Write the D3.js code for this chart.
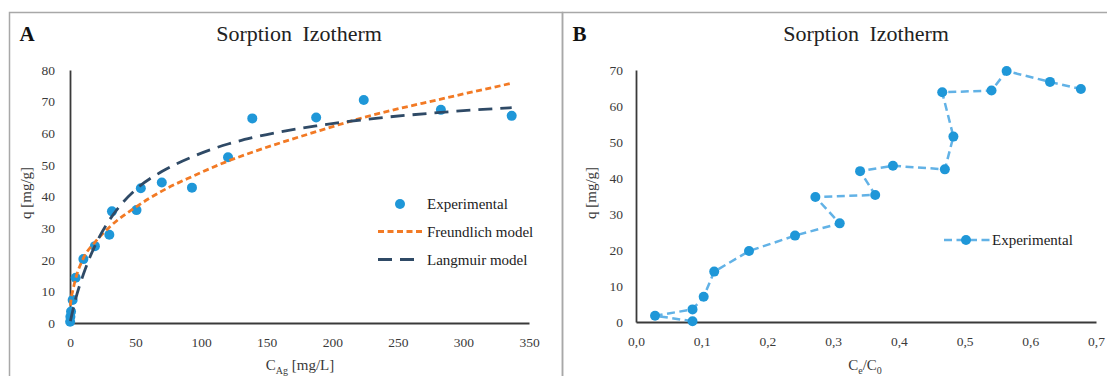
<!DOCTYPE html>
<html>
<head>
<meta charset="utf-8">
<script src="https://cdn.jsdelivr.net/npm/d3@7"></script>
<style>
  body { margin: 0; background: #fff; }
</style>
</head>
<body>
<svg id="chart" width="1107" height="376"></svg>
<script>
'use strict';

// panel A: experimental points and the two fitted models
var cAg = [0.1, 0.3, 0.8, 2, 4.3, 10.2, 19, 30, 32, 50.7, 54, 70, 93, 120.5, 139, 187.7, 224, 282.8, 336.8];
var qA = [0.4, 2, 3.6, 7.3, 14.3, 20.2, 24.3, 27.9, 35.3, 35.7, 42.6, 44.4, 42.8, 52.4, 64.7, 65.0, 70.5, 67.4, 65.5];
var modelC = [0.3, 0.8, 2, 4.3, 10.2, 19, 30, 50.7, 70, 93, 120.5, 139, 187.7, 224, 282.8, 336.8];
var freundlichQ = [5.5, 7.5, 10, 14, 20.5, 25.5, 30.3, 36.8, 41.7, 46.3, 51.2, 54, 60.5, 65, 70.8, 75.8];
var langmuirQ = [0.6, 1.5, 3.7, 7.6, 15.4, 24.4, 32.5, 42.4, 47.9, 52.5, 56.6, 58.6, 62.3, 64.3, 66.6, 68.1];
var xTicksA = [0, 50, 100, 150, 200, 250, 300, 350];
var yTicksA = [0, 10, 20, 30, 40, 50, 60, 70, 80];

// panel B: q against Ce/C0, in measurement order
var ratioB = [0.086, 0.029, 0.086, 0.103, 0.119, 0.172, 0.242, 0.310, 0.273, 0.364, 0.341, 0.391, 0.470, 0.483, 0.466, 0.541, 0.564, 0.630, 0.677];
var qB = [0.2, 1.75, 3.5, 7.0, 14.0, 19.7, 24.0, 27.4, 34.7, 35.3, 41.9, 43.4, 42.4, 51.5, 63.8, 64.3, 69.7, 66.7, 64.7];
var xTicksB = [0, 0.1, 0.2, 0.3, 0.4, 0.5, 0.6, 0.7];
var yTicksB = [0, 10, 20, 30, 40, 50, 60, 70];

var serif = '"Liberation Serif", "DejaVu Serif", serif';
var pointColor = '#1f97d8';
var lineBColor = '#62b2e6';
var freundlichColor = '#f27a25';
var langmuirColor = '#2f4a66';
var axisColor = '#3a3a3a';
var borderColor = '#a8a8a8';

var svg = d3.select('#chart').attr('font-family', serif);
var commaLocale = d3.formatLocale({ decimal: ',', thousands: '.', grouping: [3], currency: ['', ''] });

function drawFrame(x1, x2, letter, titleX) {
  svg.append('path')
    .attr('d', 'M' + x1 + ',380V12.5H' + x2 + 'V380')
    .attr('fill', 'none').attr('stroke', borderColor).attr('stroke-width', 1.5);
  svg.append('text').attr('x', x1 + 10).attr('y', 41)
    .attr('font-size', 21).attr('font-weight', 'bold').attr('fill', '#111').text(letter);
  svg.append('text').attr('x', titleX).attr('y', 41).attr('text-anchor', 'middle')
    .attr('font-size', 22).attr('word-spacing', 5).attr('fill', '#222').text('Sorption Izotherm');
}

function drawAxes(x, y, xTicks, yTicks, xFormat, yPad) {
  var gx = svg.append('g').attr('transform', 'translate(0,' + y.range()[0] + ')')
    .call(d3.axisBottom(x).tickValues(xTicks).tickSize(0).tickPadding(14).tickFormat(xFormat));
  var gy = svg.append('g').attr('transform', 'translate(' + x.range()[0] + ',0)')
    .call(d3.axisLeft(y).tickValues(yTicks).tickSize(0).tickPadding(yPad));
  [gx, gy].forEach(function (g) {
    g.attr('font-family', serif).attr('font-size', 13.5);
    g.select('.domain').attr('stroke', axisColor).attr('stroke-width', 1.8);
    g.selectAll('text').attr('fill', axisColor);
  });
}

function yTitle(xPos, yPos) {
  svg.append('text').attr('transform', 'translate(' + xPos + ',' + yPos + ') rotate(-90)')
    .attr('text-anchor', 'middle').attr('font-size', 15).attr('fill', axisColor).text('q [mg/g]');
}

// ---------- panel A ----------
drawFrame(9.5, 562.5, 'A', 299);

var xA = d3.scaleLinear().domain([0, 350]).range([70, 529]);
var yA = d3.scaleLinear().domain([0, 80]).range([323, 70]);
drawAxes(xA, yA, xTicksA, yTicksA, d3.format('d'), 15);

var xLabelA = svg.append('text').attr('x', 300).attr('y', 370).attr('text-anchor', 'middle')
  .attr('font-size', 15).attr('fill', axisColor);
xLabelA.append('tspan').text('C');
xLabelA.append('tspan').attr('font-size', 10).attr('dy', 4).text('Ag');
xLabelA.append('tspan').attr('dy', -4).text(' [mg/L]');
yTitle(31, 193);

svg.append('g').selectAll('circle').data(cAg).enter().append('circle')
  .attr('cx', function (d) { return xA(d); })
  .attr('cy', function (d, i) { return yA(qA[i]); })
  .attr('r', 5).attr('fill', pointColor);

var modelLine = d3.line()
  .x(function (d) { return xA(d[0]); })
  .y(function (d) { return yA(d[1]); })
  .curve(d3.curveMonotoneX);

svg.append('path').datum(d3.zip(modelC, freundlichQ)).attr('d', modelLine)
  .attr('fill', 'none').attr('stroke', freundlichColor).attr('stroke-width', 2.8)
  .attr('stroke-dasharray', '6,3.5');
svg.append('path').datum(d3.zip(modelC, langmuirQ)).attr('d', modelLine)
  .attr('fill', 'none').attr('stroke', langmuirColor).attr('stroke-width', 2.8)
  .attr('stroke-dasharray', '14,8');

// legend A
var legA = svg.append('g').attr('font-size', 15).attr('fill', '#222');
svg.append('circle').attr('cx', 400).attr('cy', 204).attr('r', 5).attr('fill', pointColor);
svg.append('line').attr('x1', 378).attr('x2', 424).attr('y1', 231.5).attr('y2', 231.5)
  .attr('stroke', freundlichColor).attr('stroke-width', 2.8).attr('stroke-dasharray', '6,3.5');
svg.append('line').attr('x1', 378).attr('x2', 415).attr('y1', 259.5).attr('y2', 259.5)
  .attr('stroke', langmuirColor).attr('stroke-width', 2.8).attr('stroke-dasharray', '14,8');
legA.append('text').attr('x', 427).attr('y', 209).text('Experimental');
legA.append('text').attr('x', 427).attr('y', 237).text('Freundlich model');
legA.append('text').attr('x', 427).attr('y', 265).text('Langmuir model');

// ---------- panel B ----------
drawFrame(562.5, 1120, 'B', 866);

var xB = d3.scaleLinear().domain([0, 0.7]).range([636, 1096]);
var yB = d3.scaleLinear().domain([0, 70]).range([322, 70]);
drawAxes(xB, yB, xTicksB, yTicksB, commaLocale.format('.1f'), 13);

var xLabelB = svg.append('text').attr('x', 865).attr('y', 370).attr('text-anchor', 'middle')
  .attr('font-size', 15).attr('fill', axisColor);
xLabelB.append('tspan').text('C');
xLabelB.append('tspan').attr('font-size', 10).attr('dy', 4).text('e');
xLabelB.append('tspan').attr('dy', -4).text('/C');
xLabelB.append('tspan').attr('font-size', 10).attr('dy', 4).text('0');
yTitle(596, 193);

var expLine = d3.line()
  .x(function (d) { return xB(d[0]); })
  .y(function (d) { return yB(d[1]); });

svg.append('path').datum(d3.zip(ratioB, qB)).attr('d', expLine)
  .attr('fill', 'none').attr('stroke', lineBColor).attr('stroke-width', 2.5)
  .attr('stroke-dasharray', '8,4.5');
svg.append('g').selectAll('circle').data(ratioB).enter().append('circle')
  .attr('cx', function (d) { return xB(d); })
  .attr('cy', function (d, i) { return yB(qB[i]); })
  .attr('r', 5).attr('fill', pointColor);

// legend B
svg.append('line').attr('x1', 944).attr('x2', 990).attr('y1', 240).attr('y2', 240)
  .attr('stroke', lineBColor).attr('stroke-width', 2.5).attr('stroke-dasharray', '8,4.5');
svg.append('circle').attr('cx', 966).attr('cy', 240).attr('r', 5).attr('fill', pointColor);
svg.append('text').attr('x', 992).attr('y', 245).attr('font-size', 15).attr('fill', '#222').text('Experimental');
</script>
</body>
</html>
